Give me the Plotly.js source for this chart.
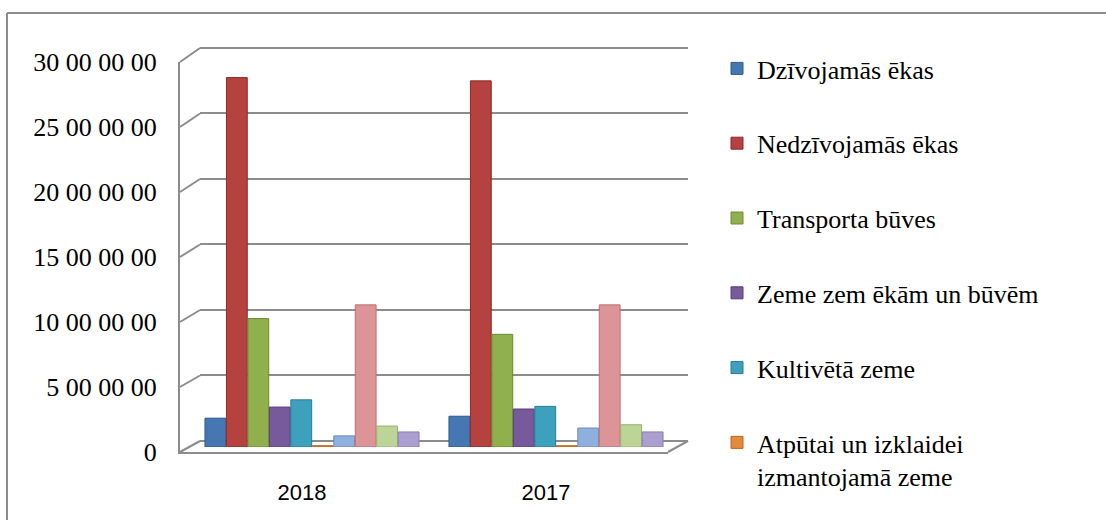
<!DOCTYPE html>
<html>
<head>
<meta charset="utf-8">
<script src="https://cdn.plot.ly/plotly-3.0.1.min.js"></script>
<style>
  html, body { margin: 0; padding: 0; background: #ffffff; }
  #chart { width: 1106px; height: 520px; }
</style>
</head>
<body>
<div id="chart"></div>
<script>
// ---------------- data ----------------
const years = ['2018', '2017'];

const seriesNames = [
  'Dzīvojamās ēkas',
  'Nedzīvojamās ēkas',
  'Transporta būves',
  'Zeme zem ēkām un būvēm',
  'Kultivētā zeme',
  'Atpūtai un izklaidei<br>izmantojamā zeme',
  '', '', '', ''
];

const dzivojamasEkas      = [2200000, 2350000];
const nedzivojamasEkas    = [28200000, 27950000];
const transportaBuves     = [9800000, 8600000];
const zemeZemEkam         = [3050000, 2900000];
const kultivetaZeme       = [3600000, 3100000];
const atputaiIzklaidei    = [100000, 100000];
const series7             = [850000, 1450000];
const series8             = [10850000, 10850000];
const series9             = [1600000, 1700000];
const series10            = [1150000, 1150000];

const seriesValues = [dzivojamasEkas, nedzivojamasEkas, transportaBuves, zemeZemEkam,
  kultivetaZeme, atputaiIzklaidei, series7, series8, series9, series10];

const yTickVals = [0, 5000000, 10000000, 15000000, 20000000, 25000000, 30000000];
const yTickText = ['0', '5 00 00 00', '10 00 00 00', '15 00 00 00', '20 00 00 00', '25 00 00 00', '30 00 00 00'];
const yMax = 30000000;

// ---------------- styles ----------------
const colors = ['#4677b2', '#b5423f', '#8fb04c', '#765a9b', '#3da0bd', '#e5893a',
  '#8fafdf', '#dc9497', '#bcd596', '#ab9fd0'];
const edgeColors = ['#2f5a8c', '#8a2b29', '#6e8a34', '#563f78', '#2a7c94', '#b8661f',
  '#6c8cbd', '#b87174', '#97b273', '#8a7db0'];

const W = 1106, H = 520;
const fx = p => p / W;
const fy = p => 1 - p / H;
const grey = '#8c8c8c';
const serif = 'Liberation Serif, Times New Roman, serif';

// geometry (pixels): back wall, front edge, mid depth (bars)
const back  = {x0: 200, x1: 688, y0: 441, y1: 48};
const front = {x0: 180, x1: 668, y0: 452, y1: 62};
const mid   = {x0: 190, x1: 678, y0: 447, y1: 54};

// small headroom on the back wall so the top gridline is drawn
const padFrac = 0.004;
const backTopPx = back.y1 - (back.y0 - back.y1) * padFrac;

const traces = [];
// dummy traces to create the wall / front subplots
traces.push({type: 'scatter', x: [], y: [], xaxis: 'x', yaxis: 'y', showlegend: false, hoverinfo: 'skip'});
traces.push({type: 'scatter', x: [], y: [], xaxis: 'x2', yaxis: 'y2', showlegend: false, hoverinfo: 'skip'});

seriesValues.forEach((vals, i) => {
  const visibleLegend = seriesNames[i] !== '';
  traces.push({
    type: 'bar',
    name: visibleLegend ? seriesNames[i] : 'Sērija ' + (i + 1),
    x: years,
    y: vals,
    xaxis: 'x3',
    yaxis: 'y3',
    showlegend: visibleLegend,
    legendgroup: 'g' + i,
    marker: {color: colors[i], line: {color: edgeColors[i], width: 1}}
  });
});

// decorative 3D frame lines (left wall diagonals + floor right edge)
const shapes = [];
yTickVals.forEach(v => {
  const fFront = front.y0 + (front.y1 - front.y0) * v / yMax;
  const fBack  = back.y0 + (back.y1 - back.y0) * v / yMax;
  shapes.push({type: 'line', xref: 'paper', yref: 'paper',
    x0: fx(front.x0), y0: fy(fFront), x1: fx(back.x0), y1: fy(fBack),
    line: {color: grey, width: 2}, layer: 'below'});
});
shapes.push({type: 'line', xref: 'paper', yref: 'paper',
  x0: fx(front.x1), y0: fy(front.y0), x1: fx(back.x1), y1: fy(back.y0),
  line: {color: grey, width: 2}, layer: 'below'});
// outer chart frame (left + top)
shapes.push({type: 'line', xref: 'paper', yref: 'paper',
  x0: fx(7), y0: fy(13), x1: fx(W + 5), y1: fy(13), line: {color: grey, width: 2}});
shapes.push({type: 'line', xref: 'paper', yref: 'paper',
  x0: fx(7), y0: fy(13), x1: fx(7), y1: fy(H + 5), line: {color: grey, width: 2}});

const layout = {
  width: W, height: H,
  margin: {l: 0, r: 0, t: 0, b: 0, pad: 0},
  paper_bgcolor: '#ffffff',
  plot_bgcolor: 'rgba(0,0,0,0)',
  barmode: 'group',
  bargap: 0.12,
  bargroupgap: 0.03,
  showlegend: true,
  // back wall with gridlines
  xaxis: {domain: [fx(back.x0), fx(back.x1)], range: [0, 1], anchor: 'y',
    showgrid: false, zeroline: false, showline: false, showticklabels: false, ticks: '', fixedrange: true},
  yaxis: {domain: [fy(back.y0), fy(backTopPx)], range: [0, yMax * (1 + padFrac)], anchor: 'x',
    tickvals: yTickVals, showticklabels: false, ticks: '',
    showgrid: true, gridcolor: grey, gridwidth: 2,
    zeroline: true, zerolinecolor: grey, zerolinewidth: 2, showline: false, fixedrange: true},
  // front edges with labels
  xaxis2: {domain: [fx(front.x0), fx(front.x1)], range: [-0.5, 1.5], anchor: 'y2', type: 'linear',
    tickvals: [0, 1], ticktext: years, ticks: '', showgrid: false, zeroline: false,
    showline: true, linecolor: grey, linewidth: 2, ticklabelstandoff: 20,
    tickfont: {family: 'Liberation Sans, Arial, sans-serif', size: 22, color: '#000000'}, fixedrange: true},
  yaxis2: {domain: [fy(front.y0), fy(front.y1)], range: [0, yMax], anchor: 'x2',
    tickvals: yTickVals, ticktext: yTickText, ticks: '', showgrid: false, zeroline: false,
    showline: true, linecolor: grey, linewidth: 2, ticklabelstandoff: 16,
    tickfont: {family: serif, size: 26, color: '#000000'}, fixedrange: true},
  // bars at mid depth
  xaxis3: {domain: [fx(mid.x0), fx(mid.x1)], type: 'category', anchor: 'y3',
    showticklabels: false, ticks: '', showgrid: false, zeroline: false, showline: false, fixedrange: true},
  yaxis3: {domain: [fy(mid.y0), fy(mid.y1)], range: [0, yMax], anchor: 'x3',
    showticklabels: false, ticks: '', showgrid: false, zeroline: false, showline: false, fixedrange: true},
  legend: {
    x: fx(717), xanchor: 'left', y: fy(45), yanchor: 'top',
    font: {family: serif, size: 26, color: '#000000'},
    bgcolor: 'rgba(0,0,0,0)', borderwidth: 0,
    traceorder: 'grouped', tracegroupgap: 38, valign: 'top'
  },
  shapes: shapes
};

Plotly.newPlot('chart', traces, layout, {displayModeBar: false, staticPlot: true});
</script>
</body>
</html>
